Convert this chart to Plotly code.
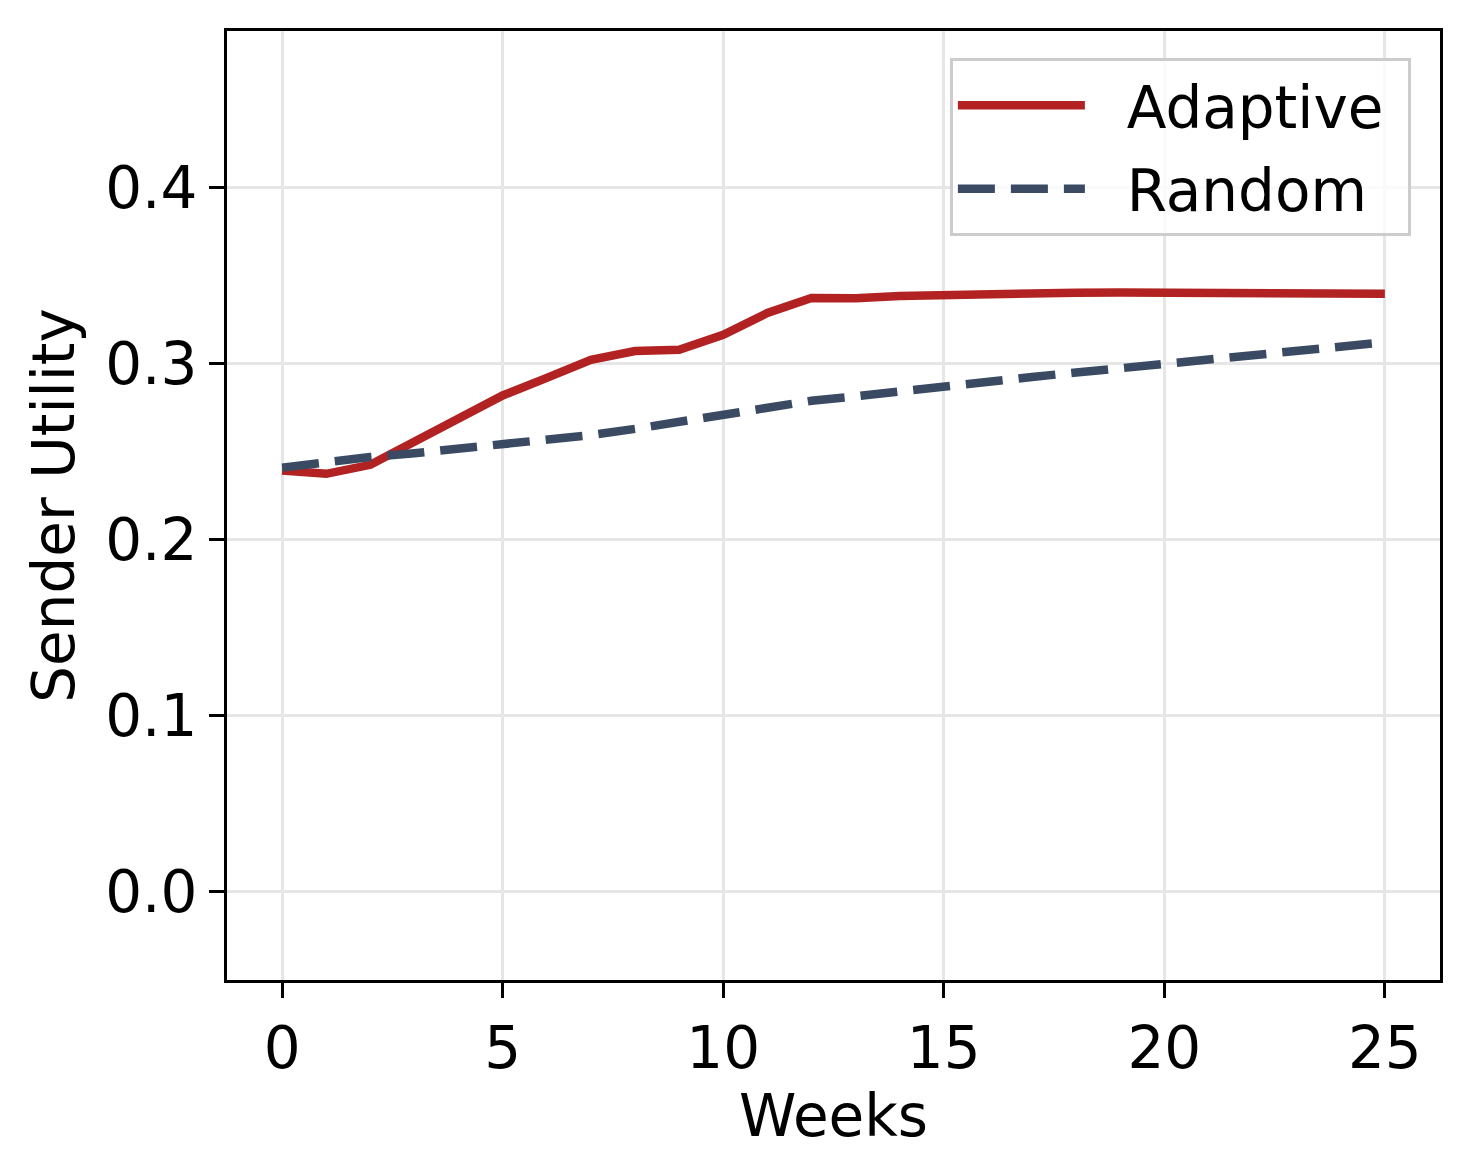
import plotly.graph_objects as go

weeks = list(range(26))
adaptive = [0.2394, 0.2375, 0.2426, 0.2558, 0.2690, 0.2820, 0.2920, 0.3023, 0.3072, 0.3080,
            0.3165, 0.3288, 0.3373, 0.3372, 0.3385, 0.3392, 0.3397, 0.3401, 0.3404, 0.3405,
            0.3405, 0.3405, 0.3405, 0.3403, 0.3401, 0.3398]
random_ = [0.2410, 0.2443, 0.2470, 0.2492, 0.2516, 0.2543, 0.2568, 0.2595, 0.2630, 0.2670,
           0.2718, 0.2760, 0.2790, 0.2815, 0.2845, 0.2875, 0.2900, 0.2925, 0.2950, 0.2975,
           0.3003, 0.3028, 0.3052, 0.3073, 0.3097, 0.3122]
series_names = ["Adaptive", "Random"]
x_ticks = [0, 5, 10, 15, 20, 25]
y_ticks = [0.0, 0.1, 0.2, 0.3, 0.4]

FONT = "DejaVu Sans"
NB = "\u00a0\u00a0"
fig = go.Figure()
fig.add_trace(go.Scatter(x=weeks, y=adaptive, mode="lines", name=NB + series_names[0] + "\u00a0",
                         legendgroup="a",
                         line=dict(color="#B22222", width=8.5)))
fig.add_trace(go.Scatter(x=weeks, y=random_, mode="lines", name=NB + series_names[1],
                         legendgroup="r",
                         line=dict(color="#3A4A63", width=8.5, dash="37px,16px")))

fig.update_layout(
    width=1461, height=1162,
    margin=dict(l=219, r=29, t=23, b=190),
    plot_bgcolor="white", paper_bgcolor="white",
    font=dict(family=FONT, size=58, color="black"),
    showlegend=True,
    legend=dict(x=0.976, y=0.9715, xanchor="right", yanchor="top",
                bgcolor="rgba(255,255,255,0.8)", bordercolor="#cccccc", borderwidth=3,
                font=dict(family=FONT, size=58, color="black"),
                itemwidth=127, tracegroupgap=5),
    xaxis=dict(range=[-1.25, 26.25], tickvals=x_ticks, ticktext=[str(v) for v in x_ticks],
               showgrid=True, gridcolor="#e6e6e6", gridwidth=3,
               showline=True, linecolor="black", linewidth=3, mirror=True,
               ticks="outside", ticklen=15, tickwidth=3, tickcolor="black",
               zeroline=False,
               title=dict(text="Weeks", font=dict(family=FONT, size=58), standoff=2),
               tickfont=dict(family=FONT, size=58)),
    yaxis=dict(range=[-0.05, 0.489], tickvals=y_ticks, ticktext=["%.1f" % v for v in y_ticks],
               showgrid=True, gridcolor="#e6e6e6", gridwidth=3,
               showline=True, linecolor="black", linewidth=3, mirror=True,
               ticks="outside", ticklen=15, tickwidth=3, tickcolor="black",
               zeroline=False,
               title=dict(text="Sender Utility", font=dict(family=FONT, size=58), standoff=12),
               tickfont=dict(family=FONT, size=58)),
)

fig.write_html("out.html")
